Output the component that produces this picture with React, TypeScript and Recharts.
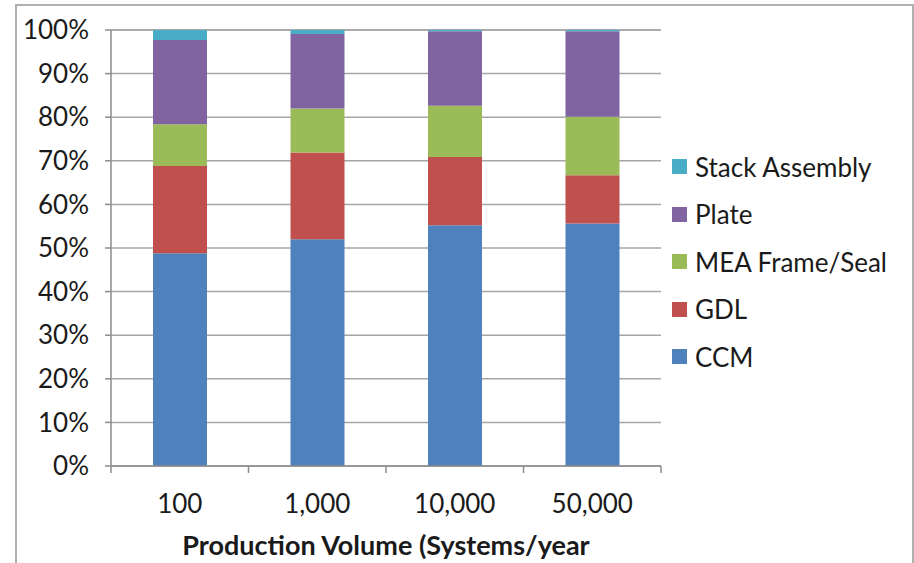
import React from 'react';
import { BarChart, Bar, XAxis, YAxis, CartesianGrid, Legend } from 'recharts';

// Cost share of each stack component, in percent of total stack cost
const volumes = ['100', '1,000', '10,000', '50,000'];
const ccm = [48.8, 52.0, 55.2, 55.6];
const gdl = [20.0, 19.9, 15.7, 11.1];
const meaFrameSeal = [9.6, 10.1, 11.7, 13.4];
const plate = [19.3, 17.1, 17.1, 19.6];
const stackAssembly = [2.3, 0.9, 0.3, 0.3];

const yTicks = [0, 10, 20, 30, 40, 50, 60, 70, 80, 90, 100];

const series = [
	{ key: 'ccm', name: 'CCM', color: '#4f81bd', values: ccm },
	{ key: 'gdl', name: 'GDL', color: '#c0504d', values: gdl },
	{ key: 'mea', name: 'MEA Frame/Seal', color: '#9bbb59', values: meaFrameSeal },
	{ key: 'plate', name: 'Plate', color: '#8064a2', values: plate },
	{ key: 'stack', name: 'Stack Assembly', color: '#4bacc6', values: stackAssembly },
];

const data = volumes.map((volume, i) => {
	const row: Record<string, string | number> = { volume };
	series.forEach((s) => {
		row[s.key] = s.values[i];
	});
	return row;
});

const CHART_W = 914;
const CHART_H = 563;
const Y_AXIS_W = 111;
const MARGIN = { top: 30, right: 253, bottom: 0, left: 0 };
// width of one category band, used to put the x tick marks between bars
const BAND = (CHART_W - MARGIN.left - MARGIN.right - Y_AXIS_W) / volumes.length;

const FONT = 'Lato, "Open Sans", sans-serif';
const FONT_SIZE = 26;
const TEXT = '#1a1a1a';
const AXIS = '#8c8c8c';
const GRID = '#a6a6a6';

function VolumeTick(props: any) {
	const { x, y, payload, index } = props;
	const isLast = index === volumes.length - 1;
	return (
		<g>
			<line x1={x - BAND / 2} x2={x - BAND / 2} y1={y} y2={y + 7} stroke={AXIS} strokeWidth={1.5} />
			{isLast && (
				<line x1={x + BAND / 2} x2={x + BAND / 2} y1={y} y2={y + 7} stroke={AXIS} strokeWidth={1.5} />
			)}
			<text
				x={x}
				y={y + 29}
				dy="0.71em"
				textAnchor="middle"
				fontFamily={FONT}
				fontSize={FONT_SIZE}
				fill={TEXT}
			>
				{payload.value}
			</text>
		</g>
	);
}

interface LegendItem {
	value: string;
	color: string;
}

function StackLegend({ payload }: { payload?: LegendItem[] }) {
	const names = series.map((s) => s.name);
	const items = [...(payload ?? [])].sort(
		(a, b) => names.indexOf(b.value) - names.indexOf(a.value),
	);
	return (
		<div style={{ fontFamily: FONT, fontSize: FONT_SIZE, color: TEXT }}>
			{items.map((item) => (
				<div
					key={item.value}
					style={{ height: 47.5, display: 'flex', alignItems: 'center', whiteSpace: 'nowrap' }}
				>
					<span
						style={{
							display: 'inline-block',
							width: 15,
							height: 15,
							background: item.color,
							marginRight: 8,
						}}
					/>
					{item.value}
				</div>
			))}
		</div>
	);
}

export default function App() {
	return (
		<div
			style={{
				position: 'absolute',
				left: 0,
				top: 0,
				width: CHART_W,
				height: CHART_H,
				overflow: 'hidden',
				background: '#fff',
			}}
		>
			<div
				style={{
					position: 'absolute',
					left: 15,
					top: 4,
					width: 895,
					height: 620,
					border: '2px solid #b0b0b0',
				}}
			/>
			<div style={{ position: 'absolute', left: 0, top: 0 }}>
				<BarChart width={CHART_W} height={CHART_H} data={data} margin={MARGIN}>
					<CartesianGrid vertical={false} stroke={GRID} strokeWidth={1.5} />
					<XAxis
						dataKey="volume"
						height={97}
						stroke={AXIS}
						strokeWidth={1.5}
						tickLine={false}
						tickSize={0}
						tickMargin={0}
						interval={0}
						tick={<VolumeTick />}
						label={{
							value: 'Production Volume (Systems/year',
							position: 'insideBottom',
							offset: 8,
							style: { fontFamily: FONT, fontSize: 27, fontWeight: 700, fill: TEXT },
						}}
					/>
					<YAxis
						width={Y_AXIS_W}
						domain={[0, 100]}
						ticks={yTicks}
						interval={0}
						tickFormatter={(v) => `${v}%`}
						tickSize={6}
						tickMargin={16}
						stroke={AXIS}
						strokeWidth={1.5}
						tick={{ fontFamily: FONT, fontSize: FONT_SIZE, fill: TEXT }}
					/>
					<Legend
						layout="vertical"
						align="center"
						verticalAlign="middle"
						content={(props) => <StackLegend payload={props.payload as LegendItem[]} />}
						wrapperStyle={{ left: 672, top: 143, width: 240 }}
					/>
					{series.map((s) => (
						<Bar
							key={s.key}
							dataKey={s.key}
							name={s.name}
							stackId="cost"
							fill={s.color}
							barSize={54}
							isAnimationActive={false}
						/>
					))}
				</BarChart>
			</div>
		</div>
	);
}
